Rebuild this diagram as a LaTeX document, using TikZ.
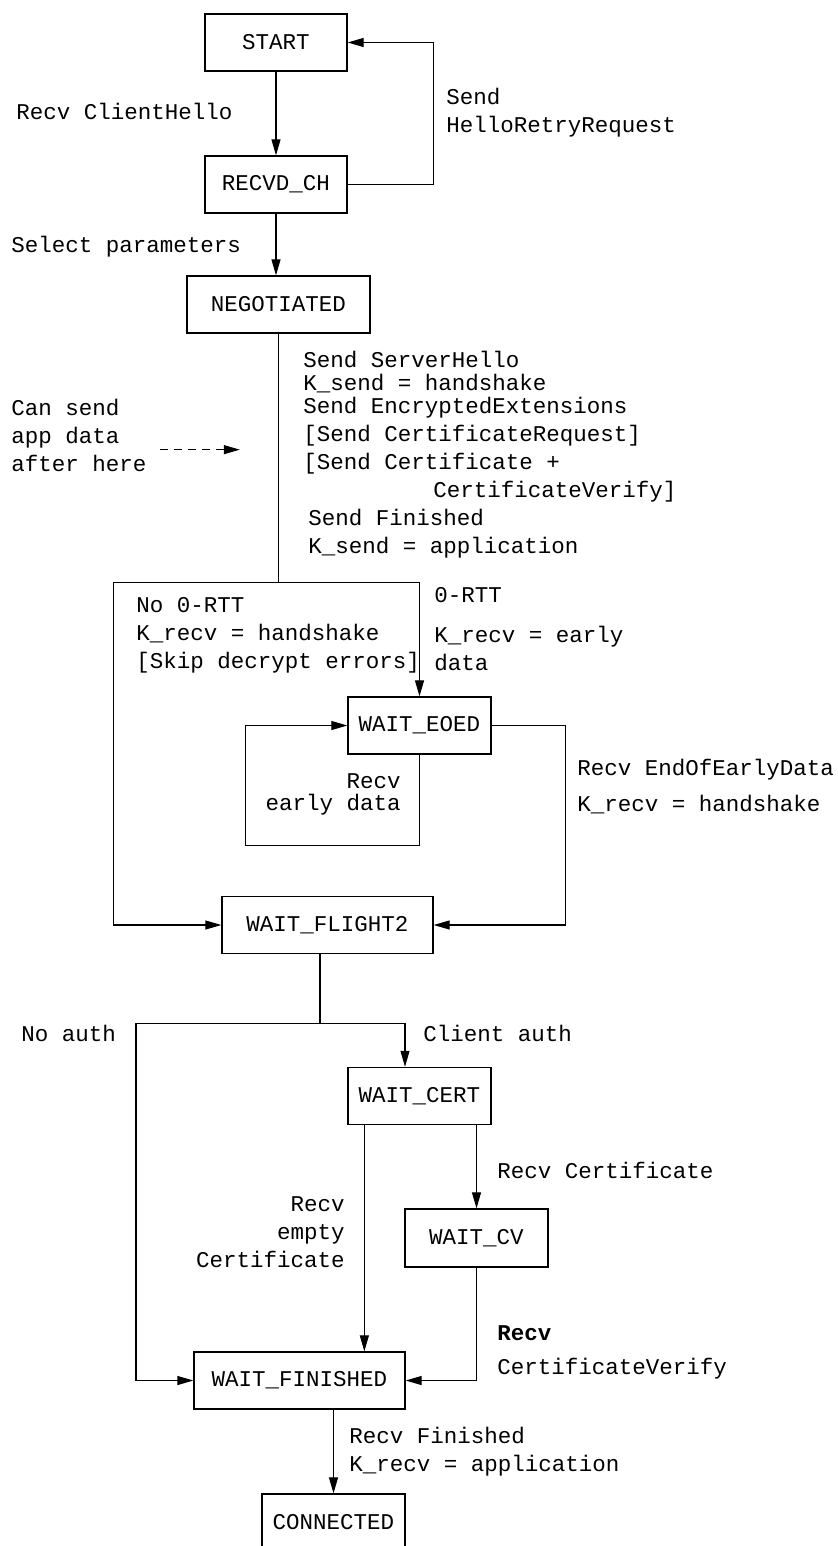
\documentclass[tikz,border=0pt]{standalone}
\usepackage{fontspec}
\setmonofont{Liberation Mono}
\usepackage{tikz}
\usetikzlibrary{arrows.meta}
\usetikzlibrary{positioning}
\usetikzlibrary{calc}
\tikzset{
	state/.style={draw, rectangle, minimum height=28.5pt, inner sep=0pt, line width=0.65pt},
	arr/.style={line width=0.55pt, arrows={-Triangle[length=8pt, width=4.5pt]}},
	lbl/.style={inner sep=0pt, align=left, anchor=west}
}
\begin{document}
\begin{tikzpicture}[x=0.5pt, y=-0.5pt, font=\ttfamily\fontsize{11.25}{14}\selectfont]
    \useasboundingbox (0,0) rectangle (837,1546);
    % Draw the states.
    \node[state, minimum width=71pt] (start) at (276,42.5) {START};
    \node[state, minimum width=71pt] (recvd) at (276,184.5) {RECVD\_CH};
    \node[state, minimum width=91.5pt] (nego) at (278.5,304.5) {NEGOTIATED};
    \node[state, minimum width=71.5pt] (eoed) at (419.5,725.5) {WAIT\_EOED};
    \node[state, minimum width=105.5pt] (flight) at (327.5,925) {WAIT\_FLIGHT2};
    \node[state, minimum width=71.5pt] (cert) at (419.5,1096) {WAIT\_CERT};
    \node[state, minimum width=71.5pt, minimum height=29pt] (cv) at (476.5,1238) {WAIT\_CV};
    \node[state, minimum width=105.5pt] (fin) at (299.5,1380.5) {WAIT\_FINISHED};
    \node[state, minimum width=71.5pt] (conn) at (333.5,1522.5) {CONNECTED};

    % Transitions
    \draw[arr] (start) -- (recvd);
    \draw[arr] (recvd.east) -- ++(86,0) |- (start.east);
    \draw[arr] (recvd.south) -- (recvd.south |- nego.north);
    \draw[line width=0.55pt] (nego.south) -- ++(0,249) coordinate (split);
    \draw[arr] (split) -| (eoed.north);
    \draw[arr] (split) -- ++(-165,0) |- (flight.west);
    \draw[arr] (eoed.south) -- ++(0,91) -- ++(-174,0) |- (eoed.west);
    \draw[arr] (eoed.east) -- ++(74,0) |- (flight.east);
    \draw[line width=0.55pt] ([xshift=-3.75pt]flight.south) -- ++(0,69) coordinate (split2);
    \draw[arr] (split2) -| ([xshift=-7.25pt]cert.north);
    \draw[arr] (split2) -- ++(-184,0) |- (fin.west);
    \draw[arr] ([xshift=8.5pt]cert.south west) -- ([xshift=8.5pt]cert.south west |- fin.north);
    \draw[arr] (cert.south -| cv.north) -- (cv.north);
    \draw[arr] (cv.south) |- (fin.east);
    \draw[arr] (fin.south -| conn.north) -- (conn.north);

    % Labels
    \node[lbl] (rch) at (16,111) {Recv ClientHello};
    \node[lbl] (hrr) at (446,113) {Send\\HelloRetryRequest};
    \node[lbl] (sel) at (11,247) {Select parameters};
    \node[lbl] (flight1) at (303,455) {Send ServerHello\\[-2.5pt]K\_send = handshake\\[-2.5pt]Send EncryptedExtensions\\{}[Send CertificateRequest]\\{}[Send Certificate +\\\hspace*{65pt}CertificateVerify]\\\hspace*{2.5pt}Send Finished\\\hspace*{2.5pt}K\_send = application};
    \node[lbl] (appdata) at (11,435) {Can send\\app data\\after here};
    \draw[arr, dash pattern=on 4pt off 3pt] ([xshift=6.5pt, yshift=11pt]appdata.south east) -- ++(80,0);
    \node[lbl] (no0rtt) at (136,635) {No 0-RTT\\K\_recv = handshake\\{}[Skip decrypt errors]};
    \node[lbl] (rtt) at (434,629) {0-RTT\\[6pt]K\_recv = early\\data};
    \node[lbl, align=right, anchor=east] (early) at (401,794) {Recv\\[-3pt]early data};
    \node[lbl] (eod) at (577,787) {Recv EndOfEarlyData\\[4pt]K\_recv = handshake};
    \node[lbl] (noauth) at (21,1033) {No auth};
    \node[lbl] (cauth) at (423,1033) {Client auth};
    \node[lbl] (rcert) at (497,1170) {Recv Certificate};
    \node[lbl, align=right, anchor=east] (empty) at (345,1232) {Recv\\empty\\Certificate};
    \node[lbl] (rcv) at (497,1352) {\textbf{Recv}\\[3pt]CertificateVerify};
    \node[lbl] (rfin) at (349,1451.5) {Recv Finished\\K\_recv = application};
\end{tikzpicture}
\end{document}
